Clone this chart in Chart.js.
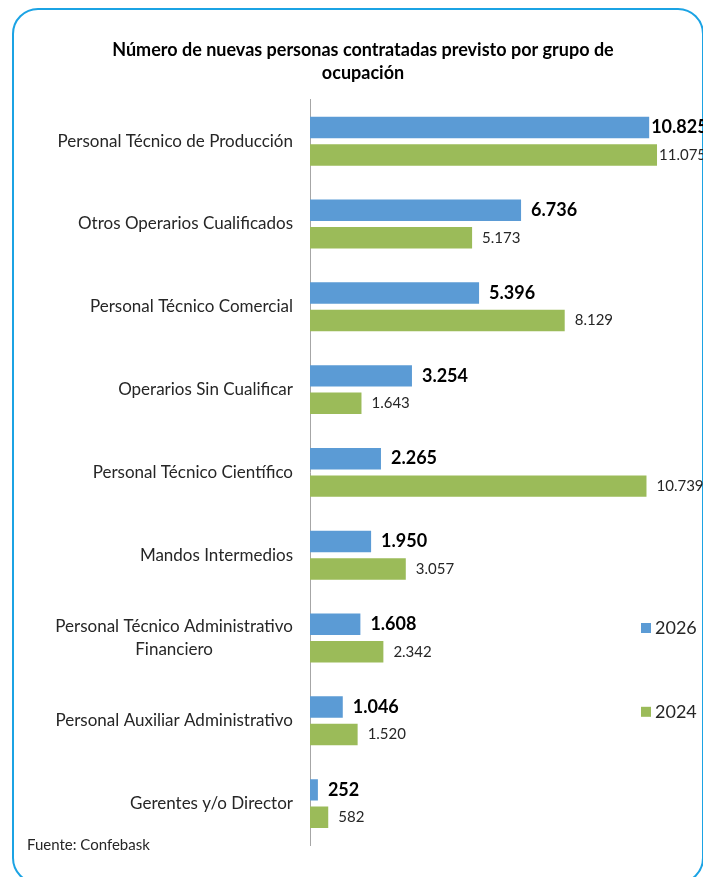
<!DOCTYPE html>
<html>
<head>
<meta charset="utf-8">
<script src="https://cdn.jsdelivr.net/npm/chart.js@4"></script>
<style>
  body { margin: 0; background: #fff; overflow: hidden; }
  #wrap { position: relative; width: 703px; height: 877px; }
  #frame {
    position: absolute; left: 12px; top: 8px; width: 692px; height: 876px;
    border: 2.5px solid #1BA3E4; border-radius: 26px; box-sizing: border-box;
  }
  #hiringChart { position: absolute; left: 0; top: 0; }
</style>
</head>
<body>
<div id="wrap">
  <div id="frame"></div>
  <canvas id="hiringChart" width="703" height="877"></canvas>
</div>
<script>
const categories = [
    'Personal Técnico de Producción',
    'Otros Operarios Cualificados',
    'Personal Técnico Comercial',
    'Operarios Sin Cualificar',
    'Personal Técnico Científico',
    'Mandos Intermedios',
    ['Personal Técnico Administrativo', 'Financiero'],
    'Personal Auxiliar Administrativo',
    'Gerentes y/o Director'
];
const values2026 = [10825, 6736, 5396, 3254, 2265, 1950, 1608, 1046, 252];
const values2024 = [11075, 5173, 8129, 1643, 10739, 3057, 2342, 1520, 582];
const seriesNames = ['2026', '2024'];
const titleLines = ['Número de nuevas personas contratadas previsto por grupo de', 'ocupación'];
const sourceText = 'Fuente: Confebask';

const FONT = 'Lato, "Open Sans", sans-serif';
const BLUE = '#5B9BD5';
const GREEN = '#9BBB59';

function fmt(v) {
    return String(v).replace(/\B(?=(\d{3})+(?!\d))/g, '.');
}

// category labels, value labels, legend and source text
const annotations = {
    id: 'annotations',
    afterDatasetsDraw(chart) {
        const ctx = chart.ctx;
        const yScale = chart.scales.y;
        ctx.save();
        ctx.textBaseline = 'middle';

        // category labels (multi-line ones are centred on the widest line)
        ctx.font = '17px ' + FONT;
        ctx.fillStyle = '#262626';
        categories.forEach((label, i) => {
            const lines = Array.isArray(label) ? label : [label];
            const yc = yScale.getPixelForValue(i);
            const widths = lines.map(l => ctx.measureText(l).width);
            const maxW = Math.max(...widths);
            const right = yScale.right - 17;
            const lh = 23;
            lines.forEach((l, k) => {
                const y = yc + (k - (lines.length - 1) / 2) * lh;
                ctx.textAlign = 'center';
                ctx.fillText(l, right - maxW / 2, y);
            });
        });

        // value labels (pulled in toward the bar when they would overflow)
        chart.data.datasets.forEach((ds, di) => {
            const meta = chart.getDatasetMeta(di);
            ctx.textAlign = 'left';
            if (di === 0) {
                ctx.font = 'bold 18px ' + FONT;
                ctx.fillStyle = '#000';
            } else {
                ctx.font = '15px ' + FONT;
                ctx.fillStyle = '#262626';
            }
            meta.data.forEach((bar, i) => {
                const txt = fmt(ds.data[i]);
                const w = ctx.measureText(txt).width;
                let x = bar.x + 10;
                if (x + w > 705) x = Math.max(bar.x + 2, 705 - w);
                ctx.fillText(txt, x, bar.y);
            });
        });

        // legend
        ctx.font = '18px ' + FONT;
        ctx.textAlign = 'left';
        const legendY = [yScale.getPixelForValue(6) - 10, yScale.getPixelForValue(7) - 9];
        chart.data.datasets.forEach((ds, di) => {
            ctx.fillStyle = ds.backgroundColor;
            ctx.fillRect(641, legendY[di] - 5, 10, 10);
            ctx.fillStyle = '#262626';
            ctx.fillText(ds.label, 655, legendY[di]);
        });

        // source
        ctx.font = '15px ' + FONT;
        ctx.fillStyle = '#262626';
        ctx.fillText(sourceText, 27, 845);
        ctx.restore();
    }
};

const hiringData = {
    labels: categories,
    datasets: [
        { label: seriesNames[0], data: values2026, backgroundColor: BLUE },
        { label: seriesNames[1], data: values2024, backgroundColor: GREEN }
    ]
};

const hiringConfig = {
    type: 'bar',
    data: hiringData,
    options: {
        indexAxis: 'y',
        responsive: false,
        animation: false,
        categoryPercentage: 0.664,
        barPercentage: 0.78,
        layout: { padding: { top: 38, right: 17, bottom: 32, left: 40 } },
        plugins: {
            legend: { display: false },
            tooltip: { enabled: false },
            title: {
                display: true,
                text: titleLines,
                color: '#000',
                font: { family: FONT, size: 18, weight: 'bold', lineHeight: 1.3 },
                padding: { top: 0, bottom: 15 }
            }
        },
        scales: {
            x: {
                display: false,
                min: 0,
                max: 12000
            },
            y: {
                grid: { display: false },
                border: { display: true, color: '#A6A6A6', width: 1 },
                ticks: { display: false },
                afterFit(scale) { scale.width = 270; }
            }
        }
    },
    plugins: [annotations]
};

const hiringChart = new Chart(
    document.getElementById('hiringChart'),
    hiringConfig
);
</script>
</body>
</html>
